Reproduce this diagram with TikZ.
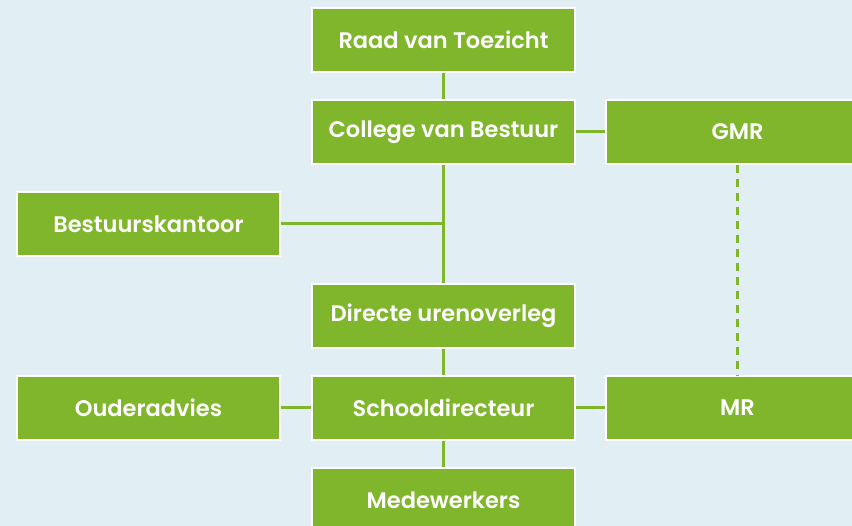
\documentclass[tikz,border=0pt]{standalone}
\usepackage{fontspec}
\setmainfont{Poppins}[BoldFont={Poppins SemiBold}]
\usepackage{tikz}
\usetikzlibrary{calc}

\definecolor{orggreen}{HTML}{7FB62B}
\definecolor{orgback}{HTML}{E1EEF4}

\begin{document}
\begin{tikzpicture}[x=1pt, y=-1pt,
		unit/.style={fill=orggreen, draw=white, line width=1.2pt, minimum width=263pt, minimum height=64pt, text=white, font=\bfseries\fontsize{22.5}{26}\selectfont},
		link/.style={orggreen, line width=3pt},
		weak/.style={link, dash pattern=on 8pt off 6pt}]
			\fill[orgback] (0, 0) rectangle (852, 526);
			\useasboundingbox (0, 0) rectangle (852, 526);
			\clip (0, 0) rectangle (852, 526);
			
			\node[unit] (rvt) at (443.5, 40) {Raad van Toezicht};
			\node[unit] (cvb) at (443.5, 132) {College van Bestuur};
			\node[unit] (gmr) at (737.5, 132) {GMR};
			\node[unit] (bk) at (148.5, 224) {Bestuurskantoor};
			\node[unit] (dir) at (443.5, 316) {Directe urenoverleg};
			\node[unit] (oa) at (148.5, 408) {Ouderadvies};
			\node[unit] (sd) at (443.5, 408) {Schooldirecteur};
			\node[unit] (mr) at (737.5, 408) {MR};
			\node[unit] (mw) at (443.5, 500) {Medewerkers};
			
			\coordinate (trunk) at (443.5, 224);
			
			\draw[link] (rvt.south) -- (cvb.north);
			\draw[link] (cvb.south) -- (dir.north);
			\draw[link] (bk.east) -- (trunk);
			\draw[link] (cvb.east) -- (gmr.west);
			\draw[link] (dir.south) -- (sd.north);
			\draw[link] (sd.south) -- (mw.north);
			\draw[link] (oa.east) -- (sd.west);
			\draw[link] (sd.east) -- (mr.west);
			\draw[weak] (gmr.south) -- (mr.north);
		\end{tikzpicture}
\end{document}
